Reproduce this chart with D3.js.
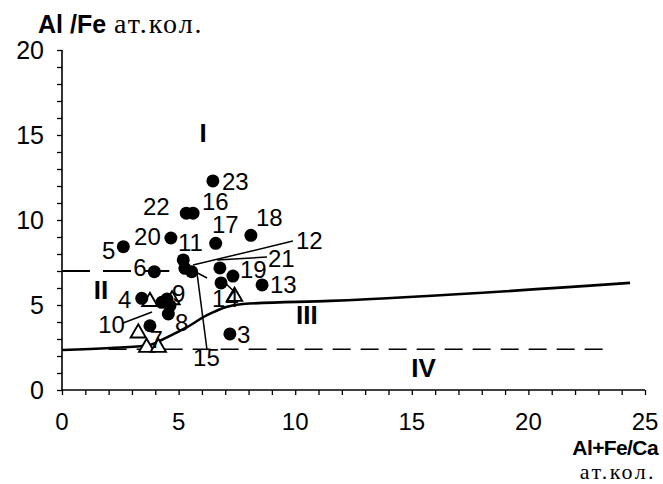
<!DOCTYPE html>
<html>
<head>
<meta charset="utf-8">
<script src="https://cdn.jsdelivr.net/npm/d3@7"></script>
<style>
  body { margin: 0; background: #fff; }
  svg { display: block; }
</style>
</head>
<body>
<div class="canvas"></div>
<script>
// filled circles (samples)
const dotX = [6.47, 5.33, 5.62, 8.1, 6.59, 4.67, 2.63, 5.2, 5.27, 5.56, 3.96, 6.77, 7.33, 6.82, 8.58, 7.2, 3.42, 4.28, 4.5, 4.63, 4.56, 3.77];
const dotY = [12.3, 10.4, 10.4, 9.1, 8.63, 8.94, 8.43, 7.65, 7.16, 6.96, 6.96, 7.18, 6.7, 6.3, 6.18, 3.3, 5.39, 5.16, 5.35, 4.96, 4.47, 3.78];

// open triangles
const triX = [3.77, 4.72, 3.27, 3.63, 4.13, 7.4];
const triY = [5.2, 5.3, 3.35, 2.5, 2.5, 5.5];

// sample numbers and where they sit
const labelText = ['23', '22', '16', '17', '18', '20', '5', '11', '12', '21', '19', '13', '6', '4', '9', '14', '10', '8', '3', '15', '7'];
const labelX = [6.86, 3.47, 6.0, 6.43, 8.32, 3.09, 1.72, 4.97, 10.03, 8.83, 7.63, 8.92, 3.05, 2.4, 4.72, 6.43, 1.55, 4.85, 7.5, 5.62, 3.75];
const labelY = [12.29, 10.8, 11.1, 9.76, 10.12, 9.05, 8.2, 8.65, 8.82, 7.76, 7.06, 6.18, 7.2, 5.35, 5.7, 5.41, 3.85, 4.0, 3.24, 1.94, 2.95];

// leader lines [x1, y1, x2, y2]
const leaders = [
  [5.62, 7.35, 9.9, 8.76],
  [6.65, 7.65, 8.79, 7.82],
  [5.79, 6.88, 6.22, 2.35],
  [5.57, 7.06, 6.22, 6.59],
  [6.86, 6.47, 7.63, 5.47],
  [2.62, 3.94, 3.86, 4.59]
];

// solid boundary curve
const curveX = [0, 2.06, 3.77, 4.5, 5.36, 6.22, 7.08, 7.76, 11.5, 24.36];
const curveY = [2.35, 2.47, 2.65, 3.1, 3.7, 4.4, 4.9, 5.06, 5.24, 6.3];

// dashed boundaries
const dashLow = [[2.0, 2.4], [23.5, 2.4]];
const dashHigh = [[0, 7.0], [4.6, 7.0]];

// field names
const fieldText = ['I', 'II', 'III', 'IV'];
const fieldX = [6.05, 1.67, 10.5, 15.5];
const fieldY = [15.1, 5.9, 4.4, 1.3];

const xTicks = [0, 5, 10, 15, 20, 25];
const yTicks = [0, 5, 10, 15, 20];

const width = 663, height = 484;
const margin = { left: 62, right: 18, top: 50, bottom: 94 };
const sans = 'Liberation Sans, Arial, sans-serif';
const serif = 'Liberation Serif, Times New Roman, serif';

const svg = d3.select('.canvas')
  .append('svg')
    .attr('width', width)
    .attr('height', height);

const x = d3.scaleLinear().domain([0, 25]).range([margin.left, width - margin.right]);
const y = d3.scaleLinear().domain([0, 20]).range([height - margin.bottom, margin.top]);

// axes with a tick every unit, labels every 5
const xAxis = d3.axisBottom(x).ticks(25).tickSize(5).tickFormat('');
const yAxis = d3.axisLeft(y).ticks(20).tickSize(5).tickFormat('');

svg.append('g')
  .attr('transform', `translate(0,${y(0)})`)
  .call(xAxis)
  .call(g => g.select('.domain').attr('d', `M${x(0)},0H${x(25)}`).attr('stroke-width', 1.6))
  .call(g => g.selectAll('.tick line').attr('stroke-width', 1.3));

svg.append('g')
  .attr('transform', `translate(${x(0)},0)`)
  .call(yAxis)
  .call(g => g.select('.domain').attr('d', `M0,${y(20)}V${y(0)}`).attr('stroke-width', 1.6))
  .call(g => g.selectAll('.tick line').attr('stroke-width', 1.3));

svg.append('g').selectAll('text')
  .data(xTicks)
  .enter()
  .append('text')
    .attr('x', d => x(d))
    .attr('y', y(0) + 40)
    .attr('text-anchor', 'middle')
    .attr('font-family', sans)
    .attr('font-size', '24px')
    .text(d => d);

svg.append('g').selectAll('text')
  .data(yTicks)
  .enter()
  .append('text')
    .attr('x', x(0) - 18)
    .attr('y', d => y(d) + 9)
    .attr('text-anchor', 'end')
    .attr('font-family', sans)
    .attr('font-size', '25px')
    .text(d => d);

// axis titles
svg.append('text')
  .attr('x', 38)
  .attr('y', 33)
  .attr('font-family', sans)
  .attr('font-weight', 'bold')
  .attr('font-size', '25px')
  .text('Al /Fe');

svg.append('text')
  .attr('x', 114)
  .attr('y', 33)
  .attr('font-family', serif)
  .attr('font-size', '28px')
  .attr('letter-spacing', '2px')
  .text('ат.кол.');

svg.append('text')
  .attr('x', 658)
  .attr('y', 455)
  .attr('text-anchor', 'end')
  .attr('font-family', sans)
  .attr('font-weight', 'bold')
  .attr('font-size', '21px')
  .attr('letter-spacing', '-0.6px')
  .text('Al+Fe/Ca');

svg.append('text')
  .attr('x', 656)
  .attr('y', 479)
  .attr('text-anchor', 'end')
  .attr('font-family', serif)
  .attr('font-size', '22px')
  .attr('letter-spacing', '2.4px')
  .text('ат.кол.');

// boundaries
const line = d3.line()
  .x(d => x(d[0]))
  .y(d => y(d[1]))
  .curve(d3.curveMonotoneX);

svg.append('path')
  .attr('d', line(d3.zip(curveX, curveY)))
  .attr('fill', 'none')
  .attr('stroke', '#000')
  .attr('stroke-width', 2.6);

svg.append('path')
  .attr('d', d3.line().x(d => x(d[0])).y(d => y(d[1]))(dashLow))
  .attr('stroke', '#000')
  .attr('stroke-width', 1.4)
  .attr('stroke-dasharray', '18,10');

svg.append('path')
  .attr('d', d3.line().x(d => x(d[0])).y(d => y(d[1]))(dashHigh))
  .attr('stroke', '#000')
  .attr('stroke-width', 1.8)
  .attr('stroke-dasharray', '28,13');

// leader lines
svg.append('g').selectAll('line')
  .data(leaders)
  .enter()
  .append('line')
    .attr('x1', d => x(d[0]))
    .attr('y1', d => y(d[1]))
    .attr('x2', d => x(d[2]))
    .attr('y2', d => y(d[3]))
    .attr('stroke', '#000')
    .attr('stroke-width', 1.5);

// triangles
const tri = d3.symbol().type(d3.symbolTriangle).size(100);
svg.append('g').selectAll('path')
  .data(d3.zip(triX, triY))
  .enter()
  .append('path')
    .attr('d', tri)
    .attr('transform', d => `translate(${x(d[0])},${y(d[1])})`)
    .attr('fill', '#fff')
    .attr('stroke', '#000')
    .attr('stroke-width', 1.9);

// circles
svg.append('g').selectAll('circle')
  .data(d3.zip(dotX, dotY))
  .enter()
  .append('circle')
    .attr('cx', d => x(d[0]))
    .attr('cy', d => y(d[1]))
    .attr('r', 6.5)
    .attr('fill', '#000');

// sample numbers
svg.append('g').selectAll('text')
  .data(labelText)
  .enter()
  .append('text')
    .attr('x', (d, i) => x(labelX[i]))
    .attr('y', (d, i) => y(labelY[i]) + 8.5)
    .attr('font-family', sans)
    .attr('font-size', '24px')
    .text(d => d);

// field names
svg.append('g').selectAll('text')
  .data(fieldText)
  .enter()
  .append('text')
    .attr('x', (d, i) => x(fieldX[i]))
    .attr('y', (d, i) => y(fieldY[i]) + 9)
    .attr('text-anchor', 'middle')
    .attr('font-family', sans)
    .attr('font-weight', 'bold')
    .attr('font-size', '26px')
    .text(d => d);
</script>
</body>
</html>
